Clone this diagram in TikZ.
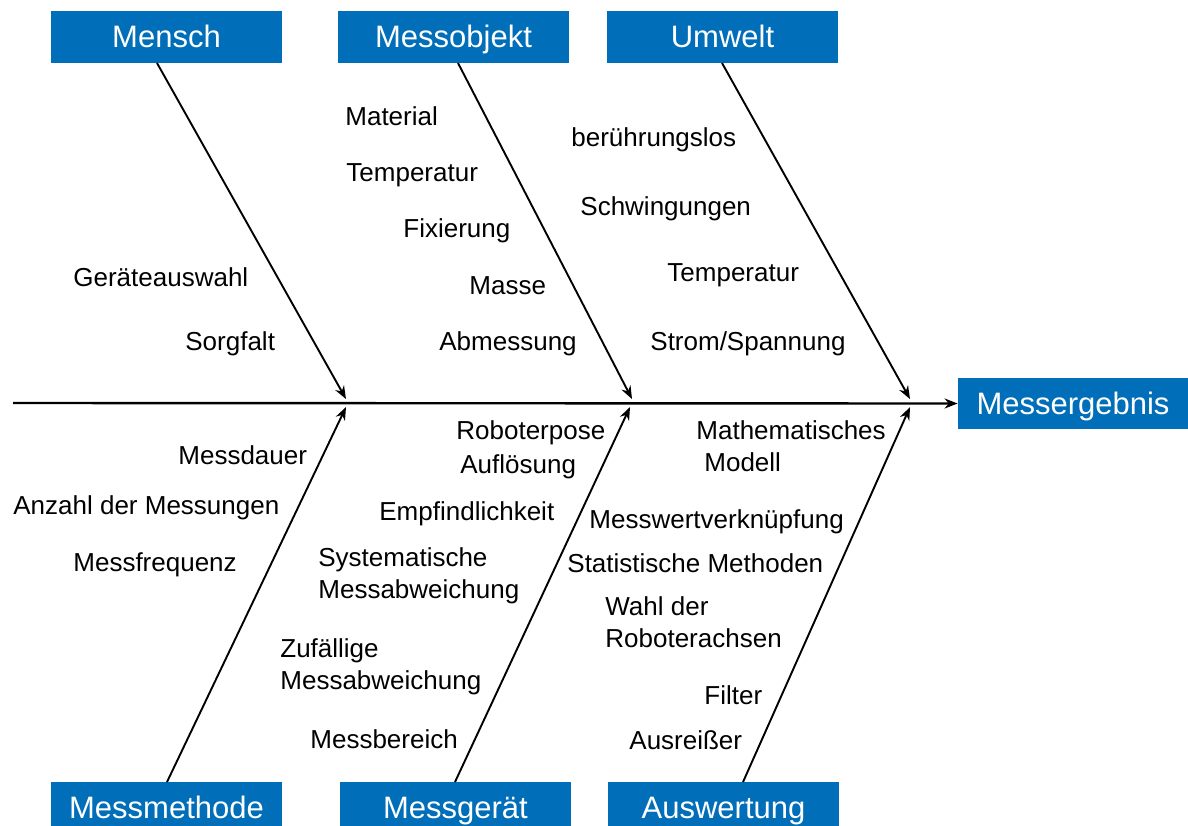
\documentclass[tikz,border=0pt]{standalone}
\usepackage{fontspec}
\setmainfont{Liberation Sans}
\usetikzlibrary{arrows.meta}
\definecolor{boxblue}{RGB}{0,110,184}
\begin{document}
\begin{tikzpicture}[x=0.5pt,y=-0.5pt,
  cat/.style={fill=boxblue, text=white, minimum width=115.5pt, minimum height=26pt, inner sep=0pt, text height=12.5pt, text depth=2pt, font=\fontsize{15.5}{18}\selectfont},
  lbl/.style={font=\fontsize{13}{16}\selectfont, inner sep=0pt, align=left, anchor=base west},
  bone/.style={line width=0.95pt, -{Stealth[length=6.5pt,width=5pt]}},
  spine/.style={line width=1.2pt, -{Stealth[length=6.5pt,width=5pt]}}]
\useasboundingbox (0,0) rectangle (1188,825);
% category boxes
\node[cat] (mensch) at (166.5,37) {Mensch};
\node[cat] (objekt) at (453.5,37) {Messobjekt};
\node[cat] (umwelt) at (722.5,37) {Umwelt};
\node[cat] (methode) at (166.5,808) {Messmethode};
\node[cat] (geraet) at (455.5,808) {Messgerät};
\node[cat] (auswert) at (723.5,808) {Auswertung};
\node[cat, minimum width=115pt, minimum height=25.5pt] (result) at (1073,403.5) {Messergebnis};
% spine
\coordinate (tail) at (13,403);
\draw[spine] (tail) -- (result.west);
% bone coordinates
\coordinate (ms) at (157,63);  \coordinate (me) at (346,399);
\coordinate (os) at (458,63);  \coordinate (oe) at (632,399);
\coordinate (us) at (722,63);  \coordinate (ue) at (910,399);
\coordinate (mms) at (167,782); \coordinate (mme) at (346,407);
\coordinate (gs) at (455,782);  \coordinate (ge) at (630,407);
\coordinate (as) at (743,782);  \coordinate (ae) at (910,407);
\draw[bone] (ms) -- (me);
\draw[bone] (os) -- (oe);
\draw[bone] (us) -- (ue);
\draw[bone] (mms) -- (mme);
\draw[bone] (gs) -- (ge);
\draw[bone] (as) -- (ae);
% labels: Mensch
\node[lbl] (l1) at (73,286) {Geräteauswahl};
\node[lbl] (l2) at (185,350) {Sorgfalt};
% Messobjekt
\node[lbl] (l3) at (345,125) {Material};
\node[lbl] (l4) at (346,181) {Temperatur};
\node[lbl] (l5) at (403,237) {Fixierung};
\node[lbl] (l6) at (469,294) {Masse};
\node[lbl] (l7) at (439,350) {Abmessung};
% Umwelt
\node[lbl] (l8) at (571,146) {berührungslos};
\node[lbl] (l9) at (580,215) {Schwingungen};
\node[lbl] (l10) at (667,281) {Temperatur};
\node[lbl] (l11) at (650,350) {Strom/Spannung};
% Messmethode
\node[lbl] (l12) at (178,464) {Messdauer};
\node[lbl] (l13) at (13,514) {Anzahl der Messungen};
\node[lbl] (l14) at (73,571) {Messfrequenz};
% Messgeraet
\node[lbl] (l15) at (456,439) {Roboterpose};
\node[lbl] (l16) at (460,473) {Auflösung};
\node[lbl] (l17) at (379,520) {Empfindlichkeit};
\node[lbl] (l18) at (318,598) {Systematische\\Messabweichung};
\node[lbl] (l19) at (280,689) {Zufällige\\Messabweichung};
\node[lbl] (l20) at (310,748) {Messbereich};
% Auswertung
\node[lbl] (l21) at (696,471) {Mathematisches\\\hspace*{4pt}Modell};
\node[lbl] (l22) at (589,528) {Messwertverknüpfung};
\node[lbl] (l23) at (567,572) {Statistische Methoden};
\node[lbl] (l24) at (605,647) {Wahl der\\Roboterachsen};
\node[lbl] (l25) at (704,704) {Filter};
\node[lbl] (l26) at (629,749) {Ausreißer};
\end{tikzpicture}
\end{document}
